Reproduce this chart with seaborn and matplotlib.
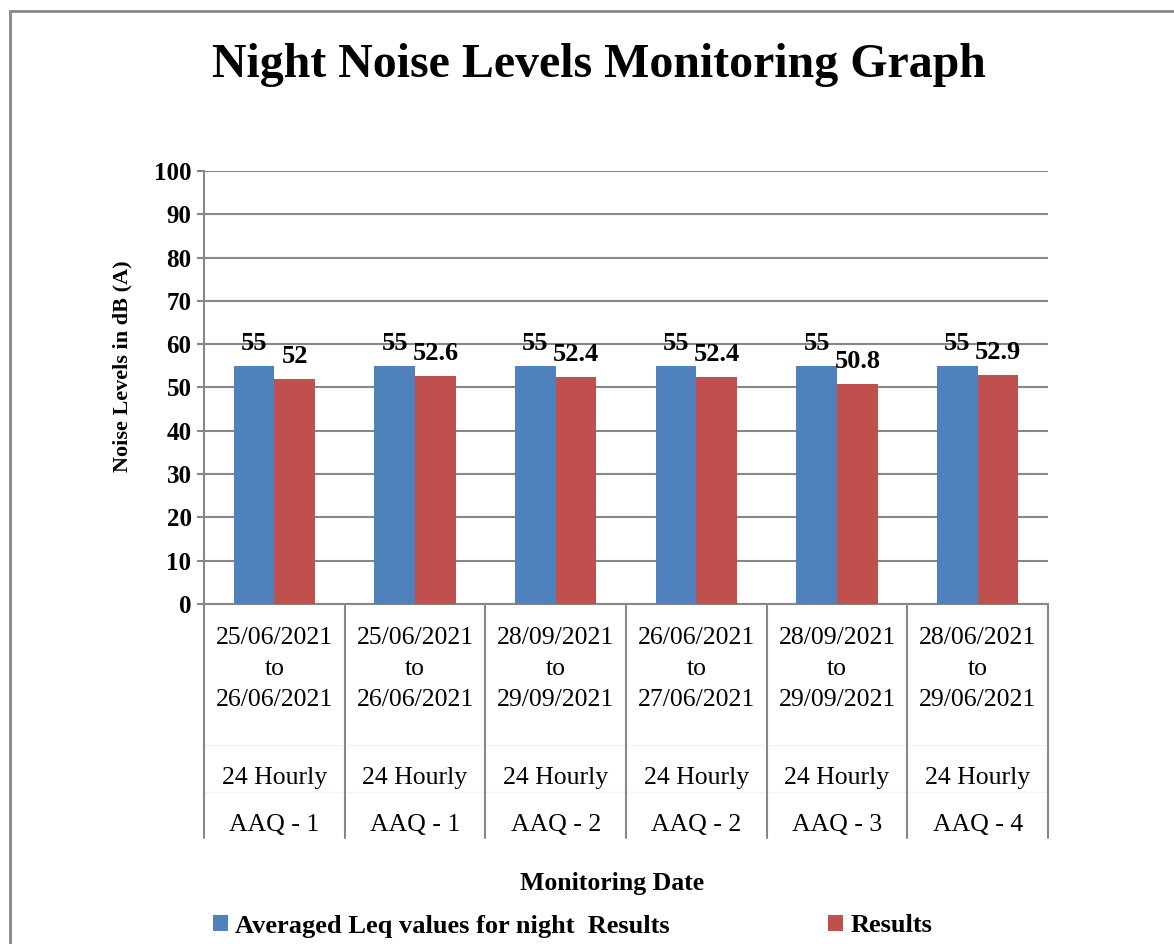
import matplotlib
matplotlib.use("Agg")
import matplotlib.pyplot as plt
import matplotlib.transforms as mtransforms
from matplotlib.patches import Rectangle, Patch
import seaborn as sns
import pandas as pd

# ---- data ----
date_ranges = ["25/06/2021\nto\n26/06/2021", "25/06/2021\nto\n26/06/2021",
               "28/09/2021\nto\n29/09/2021", "26/06/2021\nto\n27/06/2021",
               "28/09/2021\nto\n29/09/2021", "28/06/2021\nto\n29/06/2021"]
durations = ["24 Hourly"] * 6
stations = ["AAQ - 1", "AAQ - 1", "AAQ - 2", "AAQ - 2", "AAQ - 3", "AAQ - 4"]
limit_values = [55, 55, 55, 55, 55, 55]
result_values = [52, 52.6, 52.4, 52.4, 50.8, 52.9]
series_names = ["Averaged Leq values for night  Results", "Results"]
colors = ["#4F81BD", "#C0504D"]

cats = [f"c{i}" for i in range(len(stations))]
df = pd.DataFrame({
    "cat": cats * 2,
    "value": limit_values + result_values,
    "series": [series_names[0]] * len(cats) + [series_names[1]] * len(cats),
})

sns.set_theme(style="white")
plt.rcParams["font.family"] = ["Liberation Serif", "DejaVu Serif"]
plt.rcParams["text.color"] = "black"

W, H = 1174, 944
fig = plt.figure(figsize=(W / 100, H / 100), dpi=100)
L, R, T, B = 204, 1048, 171, 604
ax = fig.add_axes([L / W, 1 - B / H, (R - L) / W, (B - T) / H])

sns.barplot(data=df, x="cat", y="value", hue="series", palette=colors,
            width=0.58, saturation=1, ax=ax, legend=False, linewidth=0, zorder=3)

ax.set_xlim(-0.5, len(cats) - 0.5)
ax.set_ylim(0, 100)
ax.set_yticks(range(0, 101, 10))
ax.set_xticks([])
ax.set_xlabel("")
ax.set_ylabel("")
gray = "#878787"
ax.grid(axis="y", color=gray, linewidth=1.5, zorder=0)
for s in ["top", "right"]:
    ax.spines[s].set_visible(False)
for s in ["left", "bottom"]:
    ax.spines[s].set_color(gray)
    ax.spines[s].set_linewidth(1.5)
ax.tick_params(axis="y", length=5, width=1.5, color=gray, left=True, pad=4)
for lbl in ax.get_yticklabels():
    lbl.set_fontsize(18)
    lbl.set_fontweight("bold")
    lbl.set_color("black")

for cont in ax.containers:
    ax.bar_label(cont, labels=[f"{v:g}" for v in cont.datavalues], padding=8,
                 fontsize=19, fontweight="bold", color="black")

# multi-level category axis
tr = mtransforms.blended_transform_factory(ax.transData, ax.transAxes)
ybot = -(838 - B) / (B - T)
for i in range(len(cats) + 1):
    ax.plot([i - 0.5, i - 0.5], [0, ybot], transform=tr, color=gray, lw=1.5, clip_on=False)
for yy in [745, 792]:
    yf = (B - yy) / (B - T)
    ax.plot([-0.5, len(cats) - 0.5], [yf, yf], transform=tr, color="#f3f3f3", lw=1, clip_on=False, zorder=0)

def yfrac(py):
    return (B - py) / (B - T)

for i in range(len(cats)):
    lines = date_ranges[i].split("\n")
    for ln, py in zip(lines, [644, 675, 706]):
        ax.text(i, yfrac(py), ln, transform=tr, ha="center", va="baseline", fontsize=18.5, color="black")
    ax.text(i, yfrac(784), durations[i], transform=tr, ha="center", va="baseline", fontsize=18.5, color="black")
    ax.text(i, yfrac(831), stations[i], transform=tr, ha="center", va="baseline", fontsize=18.5, color="black")

# titles
fig.text(598.5 / W, 1 - 77 / H, "Night Noise Levels Monitoring Graph", ha="center", va="baseline",
         fontsize=34.5, fontweight="bold", color="black")
fig.text(122 / W, 1 - 366 / H, "Noise Levels in dB (A)", rotation=90, ha="center", va="center",
         fontsize=16, fontweight="bold", color="black")
fig.text(612 / W, 1 - 890 / H, "Monitoring Date", ha="center", va="baseline",
         fontsize=18.5, fontweight="bold", color="black")

handles = [Patch(facecolor=c, edgecolor="none") for c in colors]
leg = fig.legend(handles, series_names, loc="center left", bbox_to_anchor=(213 / W, 1 - 926 / H),
                 ncol=2, frameon=False, borderpad=0, borderaxespad=0, handlelength=0.55, handleheight=0.55,
                 handletextpad=0.3, columnspacing=6.0,
                 prop={"family": "Liberation Serif", "weight": "bold", "size": 19})
for t in leg.get_texts():
    t.set_color("black")

fig.add_artist(Rectangle((10 / W, -0.2), 2, 1.2 - 11 / H, transform=fig.transFigure,
                         fill=False, edgecolor=gray, lw=2))

fig.savefig("out.png", dpi=100, facecolor="white")
